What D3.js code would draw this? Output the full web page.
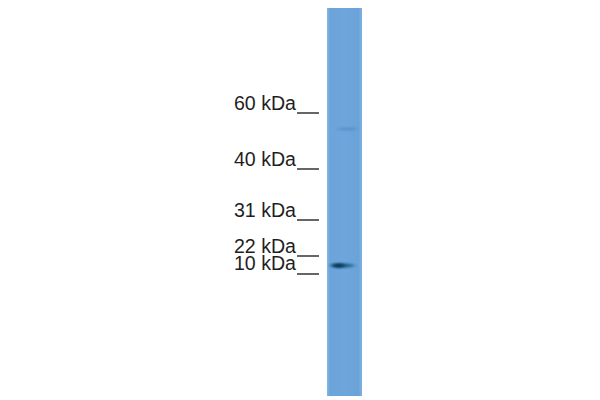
<!DOCTYPE html>
<html>
<head>
<meta charset="utf-8">
<script src="https://cdn.jsdelivr.net/npm/d3@7"></script>
<style>
  html, body { margin: 0; padding: 0; background: #fff; }
  svg { display: block; }
  text { font-family: "Liberation Sans", Arial, sans-serif; fill: #1f1f1f; }
</style>
</head>
<body>
<div id="blot"></div>
<script>
// marker ladder
var markerLabels = ["60 kDa", "40 kDa", "31 kDa", "22 kDa", "10 kDa"];
var markerRows = [113, 169, 220, 256, 274];
var labelRows = [110, 166, 217, 253, 270];

// bands in the lane: row, centre across the lane (0-1), half width, half height, colour, opacity
var bandRows = [129, 265.5, 265.5];
var bandCentres = [0.58, 0.44, 0.33];
var bandHalfWidths = [10, 12, 6];
var bandHalfHeights = [1.6, 2, 2];
var bandColours = ["#4a82bd", "#1c5d86", "#0a3350"];
var bandOpacity = [0.55, 0.9, 1];

var width = 600, height = 400;

var y = d3.scaleLinear().domain([0, 400]).range([0, height]);
var x = d3.scaleLinear().domain([0, 1]).range([327, 362]);
var labelEnd = 296, tickStart = 297, tickEnd = 319;

var svg = d3.select("#blot").append("svg")
    .attr("width", width)
    .attr("height", height);

var defs = svg.append("defs");

// lane is a bit darker just inside the edges, lighter on the rims
var laneGrad = defs.append("linearGradient").attr("id", "lane");
laneGrad.selectAll("stop")
    .data([[0, "#86b8e6"], [0.08, "#6ba4da"], [0.5, "#6ea6dc"], [0.9, "#6ba3d9"], [1, "#7eb1e2"]])
    .enter().append("stop")
    .attr("offset", d => d[0])
    .attr("stop-color", d => d[1]);

defs.append("filter").attr("id", "soft")
    .attr("x", "-50%").attr("width", "200%")
    .attr("y", "-300%").attr("height", "700%")
    .append("feGaussianBlur").attr("stdDeviation", "2.2 1.1");

defs.append("filter").attr("id", "edge")
    .append("feGaussianBlur").attr("stdDeviation", 0.5);

svg.append("rect")
    .attr("x", x(0))
    .attr("y", y(8))
    .attr("width", x(1) - x(0))
    .attr("height", y(396) - y(8))
    .attr("fill", "url(#lane)")
    .attr("filter", "url(#edge)");

// bands
svg.append("g").selectAll("ellipse")
    .data(bandRows)
    .enter().append("ellipse")
    .attr("cx", (d, i) => x(bandCentres[i]))
    .attr("cy", d => y(d))
    .attr("rx", (d, i) => bandHalfWidths[i])
    .attr("ry", (d, i) => bandHalfHeights[i])
    .attr("fill", (d, i) => bandColours[i])
    .attr("opacity", (d, i) => bandOpacity[i])
    .attr("filter", "url(#soft)");

// marker labels and their ticks
svg.append("g").selectAll("text")
    .data(markerLabels)
    .enter().append("text")
    .attr("x", labelEnd)
    .attr("y", (d, i) => y(labelRows[i]))
    .attr("text-anchor", "end")
    .attr("font-size", 19.6)
    .text(d => d);

svg.append("g").selectAll("line")
    .data(markerRows)
    .enter().append("line")
    .attr("x1", tickStart)
    .attr("x2", tickEnd)
    .attr("y1", d => y(d))
    .attr("y2", d => y(d))
    .attr("stroke", "#333")
    .attr("stroke-width", 1.5);
</script>
</body>
</html>
